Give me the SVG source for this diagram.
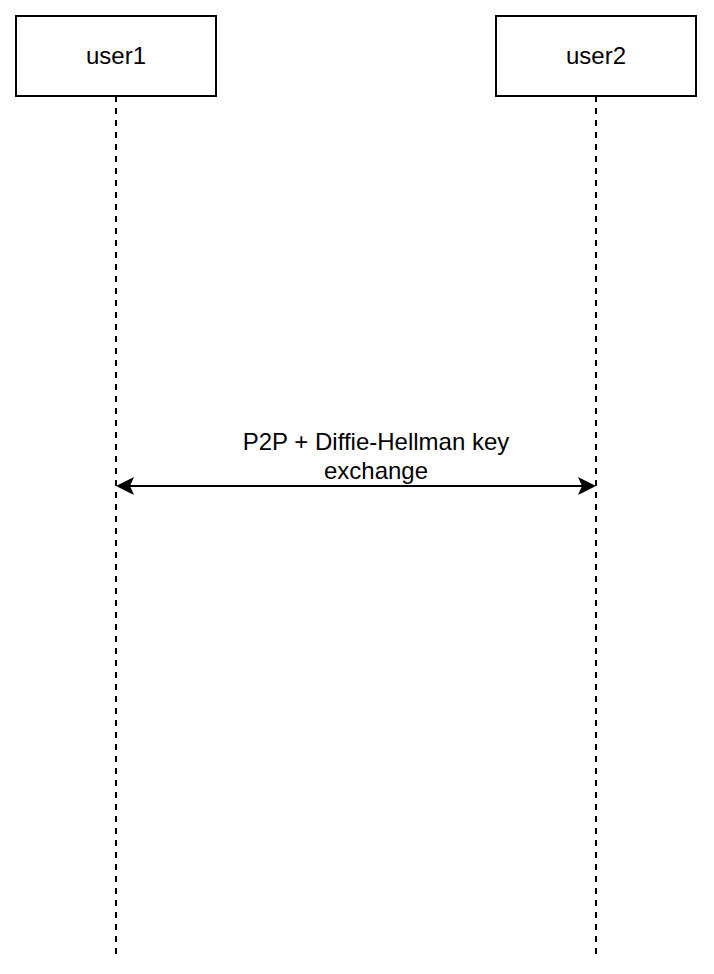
<svg xmlns="http://www.w3.org/2000/svg" width="714" height="974" viewBox="0 0 714 974">
<style>
.box{fill:#fff;stroke:#000;stroke-width:2}
.life{stroke:#000;stroke-width:2;stroke-dasharray:6 6;fill:none}
.msg{stroke:#000;stroke-width:2}
.head{fill:#000}
.lbl{font-family:"Liberation Sans",Arial,sans-serif;font-size:24px;fill:#000;text-anchor:middle}
</style>
<rect width="714" height="974" fill="#fff"/>
<g id="user1">
<rect class="box" x="16" y="16" width="200" height="80"/>
<text class="lbl" x="116" y="64">user1</text>
</g>
<g id="user2">
<rect class="box" x="496" y="16" width="200" height="80"/>
<text class="lbl" x="596" y="64">user2</text>
</g>
<g id="connectors">
<line class="life" x1="116" y1="96" x2="116" y2="954"/>
<line class="life" x1="596" y1="96" x2="596" y2="954"/>
<line class="msg" x1="130" y1="486" x2="582" y2="486"/>
<path class="head" d="M116,486 L134,477 L130,486 L134,495 Z"/>
<path class="head" d="M596,486 L578,477 L582,486 L578,495 Z"/>
<text class="lbl" x="376" y="450">P2P + Diffie-Hellman key</text>
<text class="lbl" x="376" y="479">exchange</text>
</g>
</svg>
